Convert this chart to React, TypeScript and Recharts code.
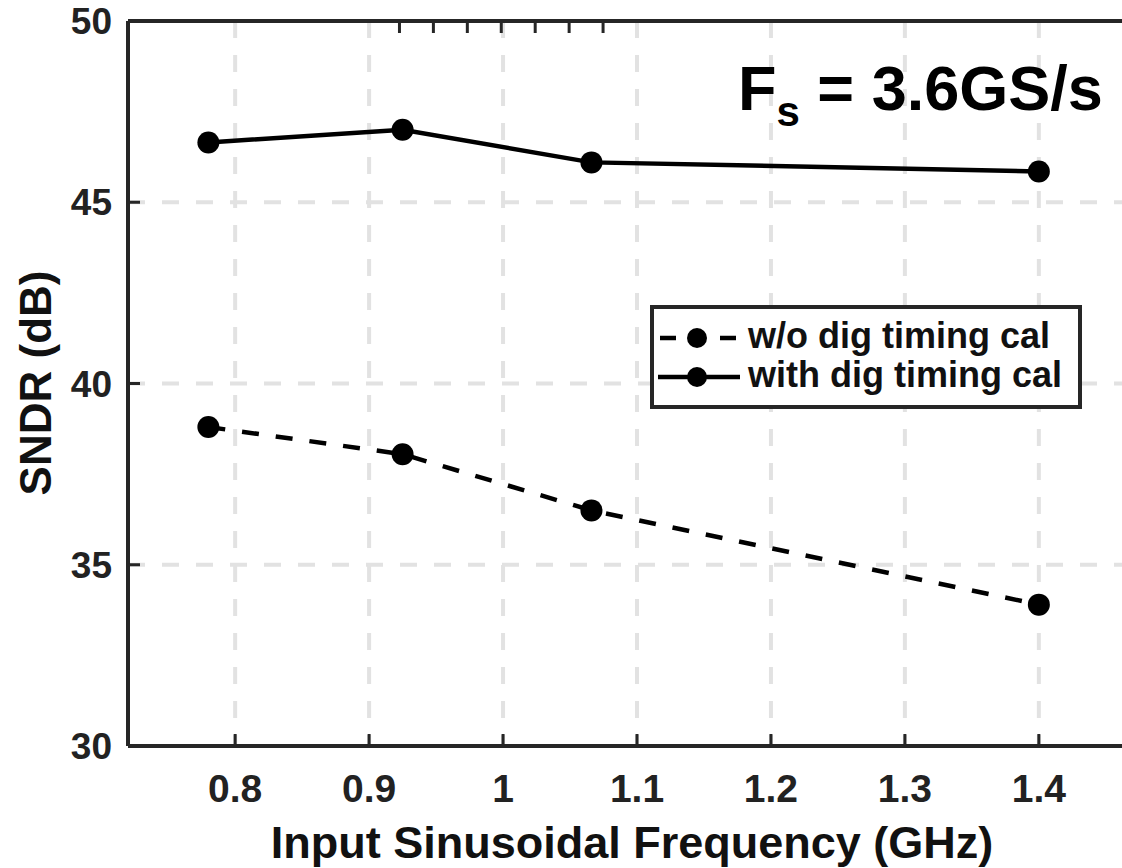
import React from 'react';
import { LineChart, Line, XAxis, YAxis, CartesianGrid, Customized } from 'recharts';

// measured SNDR vs input frequency
const freqGHz = [0.78, 0.925, 1.066, 1.4];
const sndrWithoutCal = [38.8, 38.05, 36.5, 33.9];
const sndrWithCal = [46.65, 47.0, 46.1, 45.85];
const xTicks = [0.8, 0.9, 1, 1.1, 1.2, 1.3, 1.4];
const yTicks = [30, 35, 40, 45, 50];
const seriesNames = ['w/o dig timing cal', 'with dig timing cal'];

const data = freqGHz.map((f, i) => ({ f, wo: sndrWithoutCal[i], w: sndrWithCal[i] }));

const FONT = '"Liberation Sans", Arial, Helvetica, sans-serif';
const AXIS = '#262626';
const CHART_W = 1160;
const CHART_H = 868;
const TOP = 21;
const LEFT = 128;
const BOTTOM_H = 122;
const PLOT_BOTTOM = CHART_H - BOTTOM_H;
const PLOT_RIGHT = CHART_W - 14;
const TICK_LEN = 12;

const BottomTick = ({ x, payload }: any) => (
  <g>
    <line x1={x} x2={x} y1={PLOT_BOTTOM} y2={PLOT_BOTTOM - TICK_LEN} stroke={AXIS} strokeWidth={3} />
    <text x={x} y={PLOT_BOTTOM + 56} textAnchor="middle" fontFamily={FONT} fontWeight="bold" fontSize={39} fill="#222">
      {payload.value}
    </text>
  </g>
);

const TopTick = ({ x }: any) => (
  <line x1={x} x2={x} y1={TOP} y2={TOP + TICK_LEN} stroke={AXIS} strokeWidth={3} />
);

const LeftTick = ({ y, payload }: any) => (
  <g>
    <line x1={LEFT} x2={LEFT + TICK_LEN} y1={y} y2={y} stroke={AXIS} strokeWidth={3} />
    <text x={LEFT - 16} y={y + 13} textAnchor="end" fontFamily={FONT} fontWeight="bold" fontSize={37} fill="#222">
      {payload.value}
    </text>
  </g>
);

const Decorations = () => (
  <g fontFamily={FONT} fontWeight="bold" fill="#111">
    <text x={632} y={858} textAnchor="middle" fontSize={45}>
      Input Sinusoidal Frequency (GHz)
    </text>
    <text x={51} y={383} textAnchor="middle" fontSize={44} transform="rotate(-90, 51, 383)">
      SNDR (dB)
    </text>
    <text x={738} y={110} fontSize={63} fill="#000">
      F<tspan fontSize={42} dy={16}>s</tspan>
      <tspan dy={-16}> = 3.6GS/s</tspan>
    </text>
    {/* legend */}
    <rect x={652} y={307} width={428} height={100} fill="#fff" stroke={AXIS} strokeWidth={4} />
    <line x1={660} x2={737} y1={338} y2={338} stroke="#000" strokeWidth={4.5} strokeDasharray="16 44" />
    <circle cx={697} cy={338} r={10} fill="#000" />
    <text x={748} y={348} fontSize={36}>{seriesNames[0]}</text>
    <line x1={658} x2={740} y1={377} y2={377} stroke="#000" strokeWidth={4.5} />
    <circle cx={697} cy={377} r={10} fill="#000" />
    <text x={748} y={387} fontSize={36}>{seriesNames[1]}</text>
  </g>
);

export default function App() {
  return (
    <div style={{ position: 'absolute', left: 0, top: 0, width: 1122, height: 868, overflow: 'hidden', background: '#fff' }}>
      <LineChart width={CHART_W} height={CHART_H} data={data} margin={{ top: 0, right: 14, left: 0, bottom: 0 }}>
        <CartesianGrid stroke="#e2e2e2" strokeWidth={4} strokeDasharray="17 17" />
        <XAxis
          dataKey="f"
          type="number"
          domain={[0.72, 1.48]}
          ticks={xTicks}
          height={BOTTOM_H}
          tick={<BottomTick />}
          tickLine={false}
          axisLine={{ stroke: AXIS, strokeWidth: 4 }}
          allowDataOverflow
        />
        <XAxis
          xAxisId="top"
          orientation="top"
          type="number"
          domain={[0.72, 1.48]}
          ticks={xTicks}
          height={TOP}
          tick={<TopTick />}
          tickLine={false}
          axisLine={{ stroke: AXIS, strokeWidth: 4 }}
          allowDataOverflow
        />
        <YAxis
          type="number"
          domain={[30, 50]}
          ticks={yTicks}
          width={LEFT}
          tick={<LeftTick />}
          tickLine={false}
          axisLine={{ stroke: AXIS, strokeWidth: 4 }}
        />
        <Line
          dataKey="wo"
          name={seriesNames[0]}
          stroke="#000"
          strokeWidth={4.5}
          strokeDasharray="17 17"
          dot={{ r: 11, fill: '#000', stroke: 'none', strokeWidth: 0 }}
          isAnimationActive={false}
        />
        <Line
          dataKey="w"
          name={seriesNames[1]}
          stroke="#000"
          strokeWidth={4.5}
          dot={{ r: 11, fill: '#000', stroke: 'none', strokeWidth: 0 }}
          isAnimationActive={false}
        />
        <Customized component={<Decorations />} />
      </LineChart>
    </div>
  );
}
